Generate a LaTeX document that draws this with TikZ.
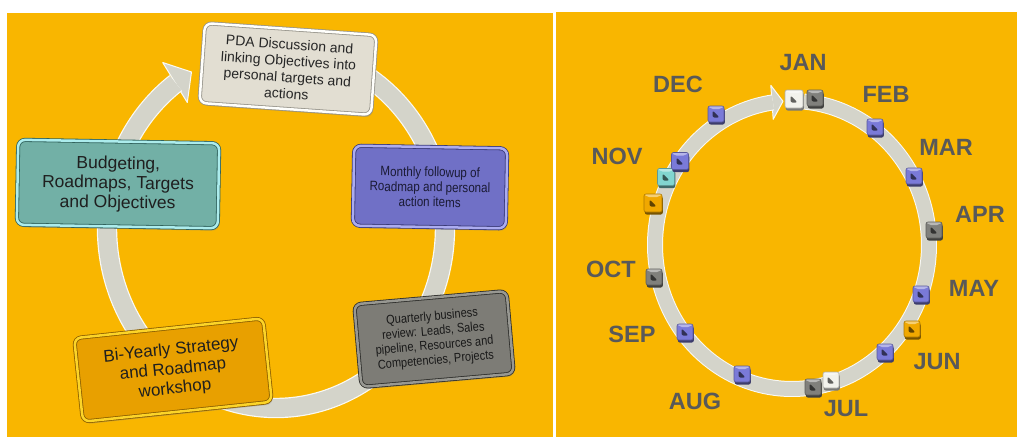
\documentclass[tikz,border=0pt]{standalone}
\usepackage{fontspec}
\setmainfont{Liberation Sans}
\newfontfamily\condf[FakeStretch=0.86]{Liberation Sans}
\usetikzlibrary{shadows}
\definecolor{bgorange}{RGB}{249,182,0}
\definecolor{ringgray}{RGB}{212,212,202}
\definecolor{ringedge}{RGB}{250,250,245}
\definecolor{pdafill}{RGB}{226,222,210}
\definecolor{pdarim}{RGB}{255,255,252}
\definecolor{pdaedge}{RGB}{150,148,138}
\definecolor{monfill}{RGB}{112,112,198}
\definecolor{monrim}{RGB}{172,172,240}
\definecolor{monedge}{RGB}{58,58,120}
\definecolor{budfill}{RGB}{114,176,166}
\definecolor{budrim}{RGB}{172,236,236}
\definecolor{budedge}{RGB}{48,98,92}
\definecolor{quafill}{RGB}{125,124,118}
\definecolor{quarim}{RGB}{152,152,146}
\definecolor{quaedge}{RGB}{45,45,42}
\definecolor{biyfill}{RGB}{232,160,0}
\definecolor{biyrim}{RGB}{252,212,40}
\definecolor{biyedge}{RGB}{140,95,0}
\definecolor{beadblue}{RGB}{122,122,216}
\definecolor{beadgray}{RGB}{128,128,124}
\definecolor{beadwhite}{RGB}{242,242,236}
\definecolor{beadteal}{RGB}{130,214,208}
\definecolor{beadorange}{RGB}{240,168,0}
\definecolor{montxt}{RGB}{89,89,89}
\begin{document}
\begin{tikzpicture}[x=1pt,y=-1pt,
  panel/.style={fill=bgorange, draw=none},
  ringL/.style={draw=ringedge, line width=1.2pt, double=ringgray, double distance=18pt, line join=round},
  ringR/.style={draw=ringedge, line width=1pt, double=ringgray, double distance=14pt, line join=round},
  headfill/.style={fill=ringgray, draw=ringedge, line width=1pt, line join=round},
  box/.style n args={3}{rectangle, rounded corners=7pt, fill=#1, draw=#3, double=#2,
    double distance=2.5pt, line width=0.8pt, align=center, inner sep=2pt,
    drop shadow={shadow xshift=1.5pt, shadow yshift=-2.5pt, opacity=.35}},
  bead/.style={rectangle, minimum size=16pt, inner sep=0pt, rounded corners=2pt,
    fill=#1, draw=#1!72!black, line width=0.6pt,
    drop shadow={shadow xshift=0.8pt, shadow yshift=-2.5pt, fill=#1!50!black, opacity=1},
    path picture={
      \fill[white, opacity=.45] (path picture bounding box.north west) -- (path picture bounding box.north east)
        -- ([shift={(-3pt,-3pt)}]path picture bounding box.north east) -- ([shift={(3pt,-3pt)}]path picture bounding box.north west) -- cycle;
      \fill[#1!40!black] ([shift={(-3.5pt,3.5pt)}]path picture bounding box.center)
        -- ([shift={(3.5pt,-3.5pt)}]path picture bounding box.center)
        -- ([shift={(-3.5pt,-3.5pt)}]path picture bounding box.center) -- cycle;}},
  mon/.style={font=\fontsize{23.5}{24}\selectfont\bfseries, text=montxt, inner sep=0pt}
]
\useasboundingbox (0,0) rectangle (1018,437);
\fill[white] (0,0) rectangle (1018,437);
\fill[panel] (7,13) rectangle (553,437);
\fill[panel] (555.5,12) rectangle (1017,437);

% ---------- left panel: cycle ----------
\coordinate (lb1) at (162.7,62.5);
\coordinate (ltip) at (191.5,72);
\coordinate (lb2) at (187.3,102.5);
\filldraw[headfill] (lb1) -- (ltip) -- (lb2) -- cycle;
\draw[ringL] plot[domain=-100:233.6, samples=220] ({276+169*cos(\x)},{228+180*sin(\x)});

\node[box={pdafill}{pdarim}{pdaedge}, minimum width=172pt, minimum height=80pt, rotate=-4,
  font=\fontsize{14}{16.5}\selectfont, text=black!85] (pda) at (288,69)
  {PDA Discussion and\\linking Objectives into\\personal targets and\\actions};
\node[box={monfill}{monrim}{monedge}, minimum width=153pt, minimum height=80pt, rotate=-1,
  font=\condf\fontsize{13.5}{15}\selectfont, text={rgb,255:red,26;green,26;blue,52}] (monthly) at (430,187)
  {Monthly followup of\\Roadmap and personal\\action items};
\node[box={budfill}{budrim}{budedge}, minimum width=201pt, minimum height=85pt, rotate=-1,
  font=\fontsize{17.5}{19.5}\selectfont, text=black!88] (budget) at (118,184)
  {Budgeting,\\Roadmaps, Targets\\and Objectives};
\node[box={quafill}{quarim}{quaedge}, minimum width=153pt, minimum height=83pt, rotate=5,
  font=\condf\fontsize{12.8}{14.6}\selectfont, text=black!90] (quarter) at (434,339)
  {Quarterly business\\review: Leads, Sales\\pipeline, Resources and\\Competencies, Projects};
\node[box={biyfill}{biyrim}{biyedge}, minimum width=190pt, minimum height=84pt, rotate=6,
  font=\fontsize{17}{19.5}\selectfont, text=black!88] (biyear) at (173,370)
  {Bi-Yearly Strategy\\and Roadmap\\workshop};

% ---------- right panel: year ring ----------
\coordinate (rb1) at (770.8,85.3);
\coordinate (rtip) at (783,101.3);
\coordinate (rb2) at (773.2,119.3);
\filldraw[headfill] (rb1) -- (rtip) -- (rb2) -- cycle;
\draw[ringR] plot[domain=-85:262, samples=220] ({792+137*cos(\x)},{245+144*sin(\x)});

\node[bead=beadwhite, minimum size=18pt] (bjan1) at (794,99) {};
\node[bead=beadgray] (bjan2) at (815,98) {};
\node[bead=beadblue] (bfeb) at (875,127) {};
\node[bead=beadblue] (bmar) at (914,176) {};
\node[bead=beadgray] (bapr) at (934,230) {};
\node[bead=beadblue] (bmay) at (921,294) {};
\node[bead=beadorange] (bmj) at (912,329) {};
\node[bead=beadblue] (bjun) at (885,352) {};
\node[bead=beadwhite] (bjul1) at (831,380) {};
\node[bead=beadgray] (bjul2) at (813,387) {};
\node[bead=beadblue] (baug) at (742,374) {};
\node[bead=beadblue] (bsep) at (685,332) {};
\node[bead=beadgray] (boct) at (654,277) {};
\node[bead=beadorange, minimum size=18pt] (bon) at (653,203) {};
\node[bead=beadteal, minimum size=17pt] (bnt) at (666,177) {};
\node[bead=beadblue, minimum size=17pt] (bnov) at (680,161) {};
\node[bead=beadblue] (bdec) at (716,114) {};

\node[mon] (ljan) at (803,63) {JAN};
\node[mon] (lfeb) at (886,94) {FEB};
\node[mon] (lmar) at (946,147) {MAR};
\node[mon] (lapr) at (980,214) {APR};
\node[mon] (lmay) at (974,288) {MAY};
\node[mon] (ljun) at (937,362) {JUN};
\node[mon] (ljul) at (846,409) {JUL};
\node[mon] (laug) at (695,401) {AUG};
\node[mon] (lsep) at (632,334) {SEP};
\node[mon] (loct) at (611,269) {OCT};
\node[mon] (lnov) at (617,156) {NOV};
\node[mon] (ldec) at (678,84) {DEC};
\end{tikzpicture}
\end{document}
